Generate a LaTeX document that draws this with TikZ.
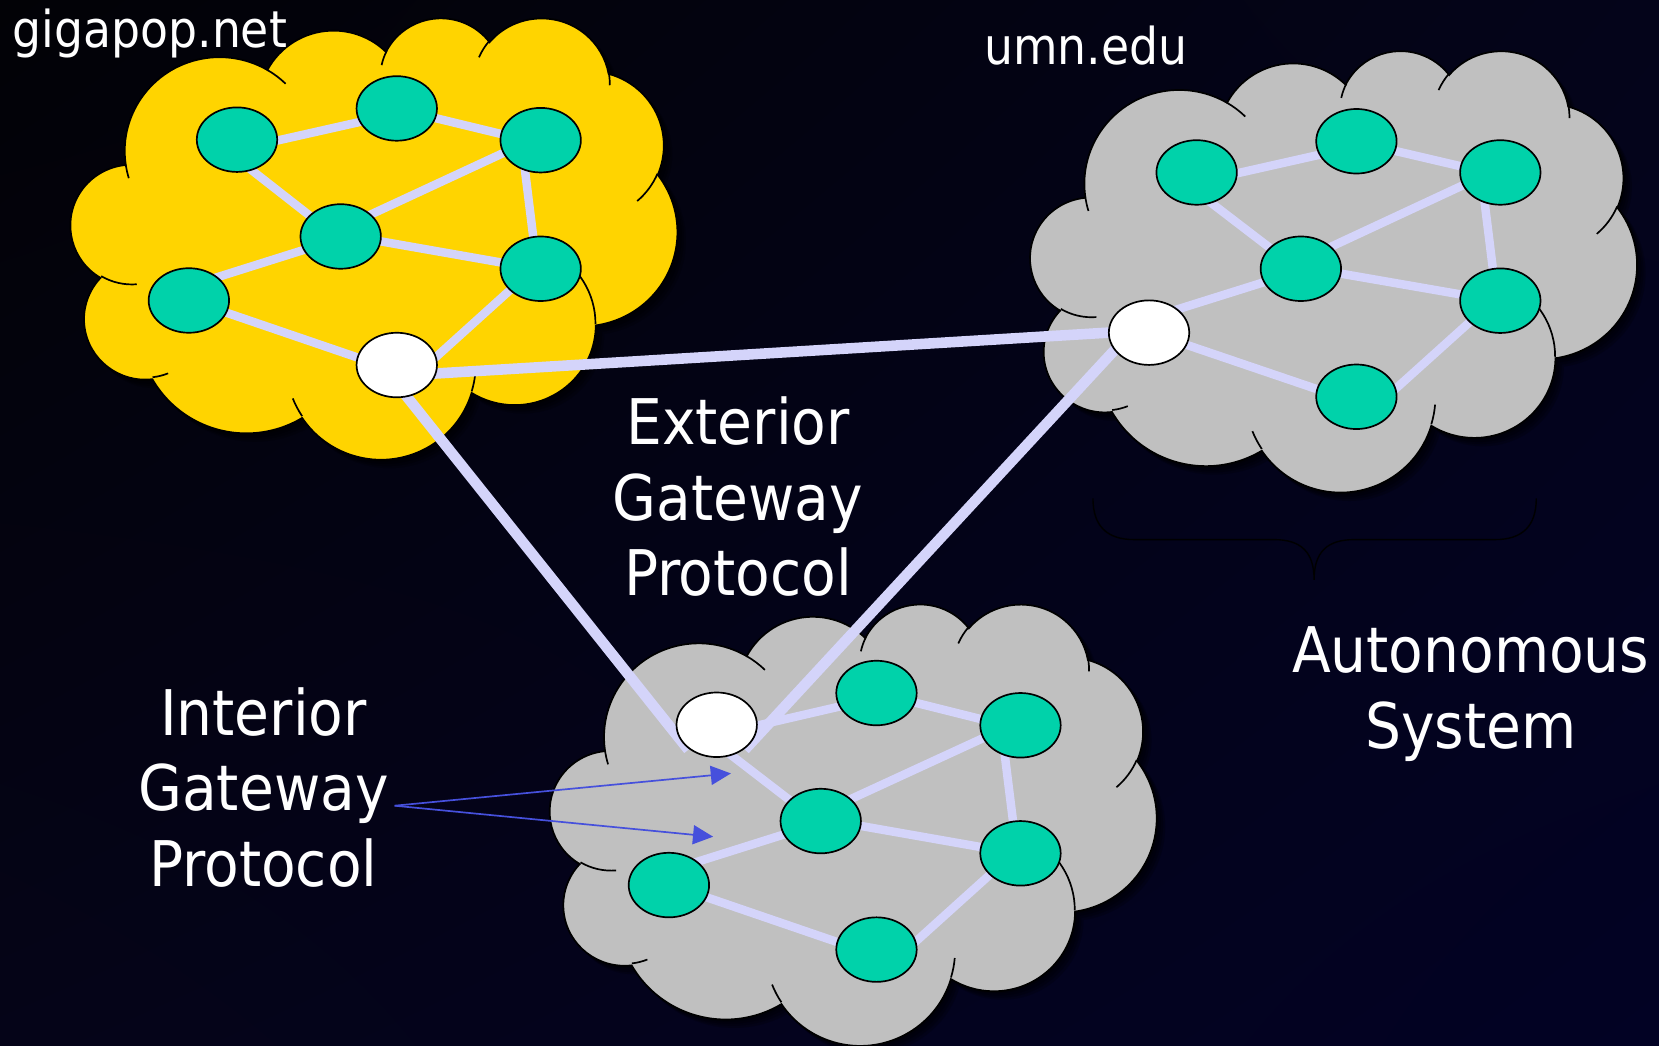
\documentclass[tikz,border=0pt]{standalone}
\usepackage{fontspec}
\setmainfont{DejaVu Sans}
\newfontfamily\condfont{DejaVu Sans Condensed}
\usetikzlibrary{shapes.geometric,arrows.meta,shadings}
\pgfdeclarelayer{bg}
\pgfdeclarelayer{clouds}
\pgfdeclarelayer{links}
\pgfsetlayers{bg,clouds,links,main}

\definecolor{bgTL}{RGB}{2,2,6}
\definecolor{bgTR}{RGB}{4,4,26}
\definecolor{bgBL}{RGB}{5,4,24}
\definecolor{bgBR}{RGB}{2,2,36}
\definecolor{cloudyellow}{RGB}{255,212,0}
\definecolor{cloudgray}{RGB}{192,192,192}
\definecolor{nodeteal}{RGB}{0,210,170}
\definecolor{linkc}{RGB}{212,212,250}
\definecolor{arrowblue}{RGB}{70,80,220}

% visual (DrawingML) angle -> parametric angle
\newcommand\cpa[3]{((#3)+atan(((#1)-(#2))*sin(#3)*cos(#3)/((#2)*cos(#3)*cos(#3)+(#1)*sin(#3)*sin(#3))))}
\newcommand\carc[4]{arc[x radius=#1,y radius=#2,start angle={\cpa{#1}{#2}{#3}},end angle={\cpa{#1}{#2}{#4}}]}

\newcommand\cloudbody[1]{\path[#1] (39.00,143.70)
 \carc{67.53}{91.90}{-190.48748}{-66.70695}
 \carc{53.33}{72.67}{-144.10238}{-54.15715}
 \carc{43.65}{59.45}{-145.80792}{-46.08490}
 \carc{48.57}{65.95}{-130.98607}{-13.74434}
 \carc{53.33}{72.73}{-78.70888}{30.31804}
 \carc{67.75}{92.20}{-46.26725}{84.00175}
 \carc{57.85}{78.67}{0.62502}{114.65835}
 \carc{67.52}{92.15}{22.45160}{137.62415}
 \carc{77.20}{105.43}{66.24263}{141.95365}
 \carc{43.60}{59.18}{-274.94208}{-128.20651}
 \carc{43.45}{59.45}{-246.82850}{-94.30965}
 -- cycle;}

\newcommand\cloudhooks[1]{\path[#1]
 (46.93,261.77) \carc{43.45}{59.45}{86.74200}{113.17150}
 (69.28,348.99) \carc{43.60}{59.18}{73.61047}{85.05794}
 (164.78,390.90) \carc{67.52}{92.15}{137.62415}{151.70525}
 (288.27,347.51) \carc{67.52}{92.15}{6.45327}{22.45162}
 (341.29,229.54) \carc{57.85}{78.67}{-70.29235}{0.62502}
 (417.98,153.54) \carc{53.33}{72.73}{30.31803}{58.06953}
 (383.24,54.26) \carc{48.57}{65.95}{-13.74433}{1.11457}
 (290.78,39.52) \carc{48.57}{65.95}{-149.18145}{-130.98608}
 (221.41,47.20) \carc{43.65}{59.45}{-163.49427}{-145.80792}
 (140.00,51.92) \carc{67.53}{91.90}{-66.70695}{-54.38760}
 (41.27,157.89) \carc{67.53}{91.90}{157.65435}{169.51252};}

% #1 fill colour, #2 left, #3 top (picture pixels)
\newcommand\netcloud[3]{%
 \begin{scope}[xshift=#2pt,yshift=-#3pt,x=1.32639pt,y=-0.965278pt]
  \foreach \k in {2,4,6,8} {\cloudbody{fill=black,fill opacity=0.22,xshift=\k pt,yshift=-\k pt}}
  \cloudbody{fill=#1,draw=black,line width=1.6pt}
  \cloudhooks{draw=black,line width=1.6pt}
 \end{scope}}

% the nine links inside one autonomous system
\newcommand\lanlinks[7]{%
 \draw[lan] (#1.-1) -- (#2.200);
 \draw[lan] (#2.-14) -- (#3.171);
 \draw[lan] (#1.-64) -- (#4.146);
 \draw[lan] (#3.199) -- (#4.36);
 \draw[lan] (#3.243) -- (#5.103);
 \draw[lan] (#4.-7) -- (#5.171);
 \draw[lan] (#4.200) -- (#6.39);
 \draw[lan] (#6.-18) -- (#7.169);
 \draw[lan] (#7.12) -- (#5.215);}

\tikzset{
 router/.style={ellipse,draw=black,line width=1.6pt,fill=nodeteal,minimum width=76pt,minimum height=61pt,inner sep=0pt},
 gateway/.style={router,fill=white},
 lan/.style={draw=linkc,line width=8pt,shorten <=-4pt,shorten >=-4pt},
 wan/.style={draw=linkc,line width=10pt,shorten <=-4pt,shorten >=-4pt},
 igparrow/.style={draw=arrowblue,line width=1.6pt,-{Triangle[length=19pt,width=18pt]}},
 bigtext/.style={text=white,inner sep=0pt,font=\condfont\fontsize{59.5}{71.5}\selectfont},
 labeltext/.style={text=white,inner sep=0pt,font=\condfont\fontsize{48}{56}\selectfont},
 bracestyle/.style={draw=black,line width=1.3pt}
}

\begin{document}
\begin{tikzpicture}[x=1pt,y=-1pt]
\useasboundingbox (0,0) rectangle (1568,988);
\begin{pgfonlayer}{bg}
 \shade[upper left=bgTL,upper right=bgTR,lower left=bgBL,lower right=bgBR] (0,0) rectangle (1568,988);
\end{pgfonlayer}
\begin{pgfonlayer}{clouds}
 \netcloud{cloudyellow}{67}{16}
 \netcloud{cloudgray}{974}{47}
 \netcloud{cloudgray}{520}{570}
 % brace under umn.edu
 \draw[bracestyle] (1033,471) .. controls (1033,497) and (1046,510) .. (1072,510) -- (1204,510)
   .. controls (1230,510) and (1242,522) .. (1242,548)
   .. controls (1242,522) and (1254,510) .. (1280,510) -- (1413,510)
   .. controls (1439,510) and (1452,497) .. (1452,471);
\end{pgfonlayer}

% gigapop.net routers
\node[router] (n1) at (224,132) {};
\node[router] (n2) at (375,102.5) {};
\node[router] (n3) at (511,132.5) {};
\node[router] (n4) at (322,223.5) {};
\node[router] (n5) at (511,254) {};
\node[router] (n6) at (178.5,284) {};
\node[gateway] (w1) at (375,345) {};
% umn.edu routers
\node[router] (m1) at (1131,163) {};
\node[router] (m2) at (1282,133.5) {};
\node[router] (m3) at (1418,163) {};
\node[router] (m4) at (1229.5,254) {};
\node[router] (m5) at (1418,284.2) {};
\node[gateway] (mw) at (1086,314.4) {};
\node[router] (m6) at (1282,375) {};
% third AS routers
\node[gateway] (bw) at (677.4,685) {};
\node[router] (b1) at (828.4,655) {};
\node[router] (b2) at (964.5,685.5) {};
\node[router] (b3) at (775.7,776) {};
\node[router] (b4) at (964.5,806.5) {};
\node[router] (b5) at (632.2,836.5) {};
\node[router] (b6) at (828.4,897.5) {};

\begin{pgfonlayer}{links}
 \lanlinks{n1}{n2}{n3}{n4}{n5}{n6}{w1}
 \lanlinks{m1}{m2}{m3}{m4}{m5}{mw}{m6}
 \lanlinks{bw}{b1}{b2}{b3}{b4}{b5}{b6}
 \draw[wan] (w1.-12) -- (mw.west);
 \draw[wan] (w1.-72) -- (bw.215);
 \draw[wan] (mw.207) -- (bw.-35);
\end{pgfonlayer}

% labels
\node[labeltext,anchor=base west] (gigapop) at (12,45) {gigapop.net};
\node[labeltext,anchor=base west] (umn) at (930,61) {umn.edu};
\node[bigtext,anchor=base] (egp) at (697.5,420) {\begin{tabular}[t]{@{}c@{}}Exterior\\Gateway\\Protocol\end{tabular}};
\node[bigtext,anchor=base] (igp) at (249,695) {\begin{tabular}[t]{@{}c@{}}Interior\\Gateway\\Protocol\end{tabular}};
\node[bigtext,anchor=base] (as) at (1390,636) {\begin{tabular}[t]{@{}c@{}}Autonomous\\System\end{tabular}};

\coordinate (igpstart) at (373,761.5);
\coordinate (igptip1) at (690.8,731);
\coordinate (igptip2) at (674,790.8);
\draw[igparrow] (igpstart) -- (igptip1);
\draw[igparrow] (igpstart) -- (igptip2);
\end{tikzpicture}
\end{document}
